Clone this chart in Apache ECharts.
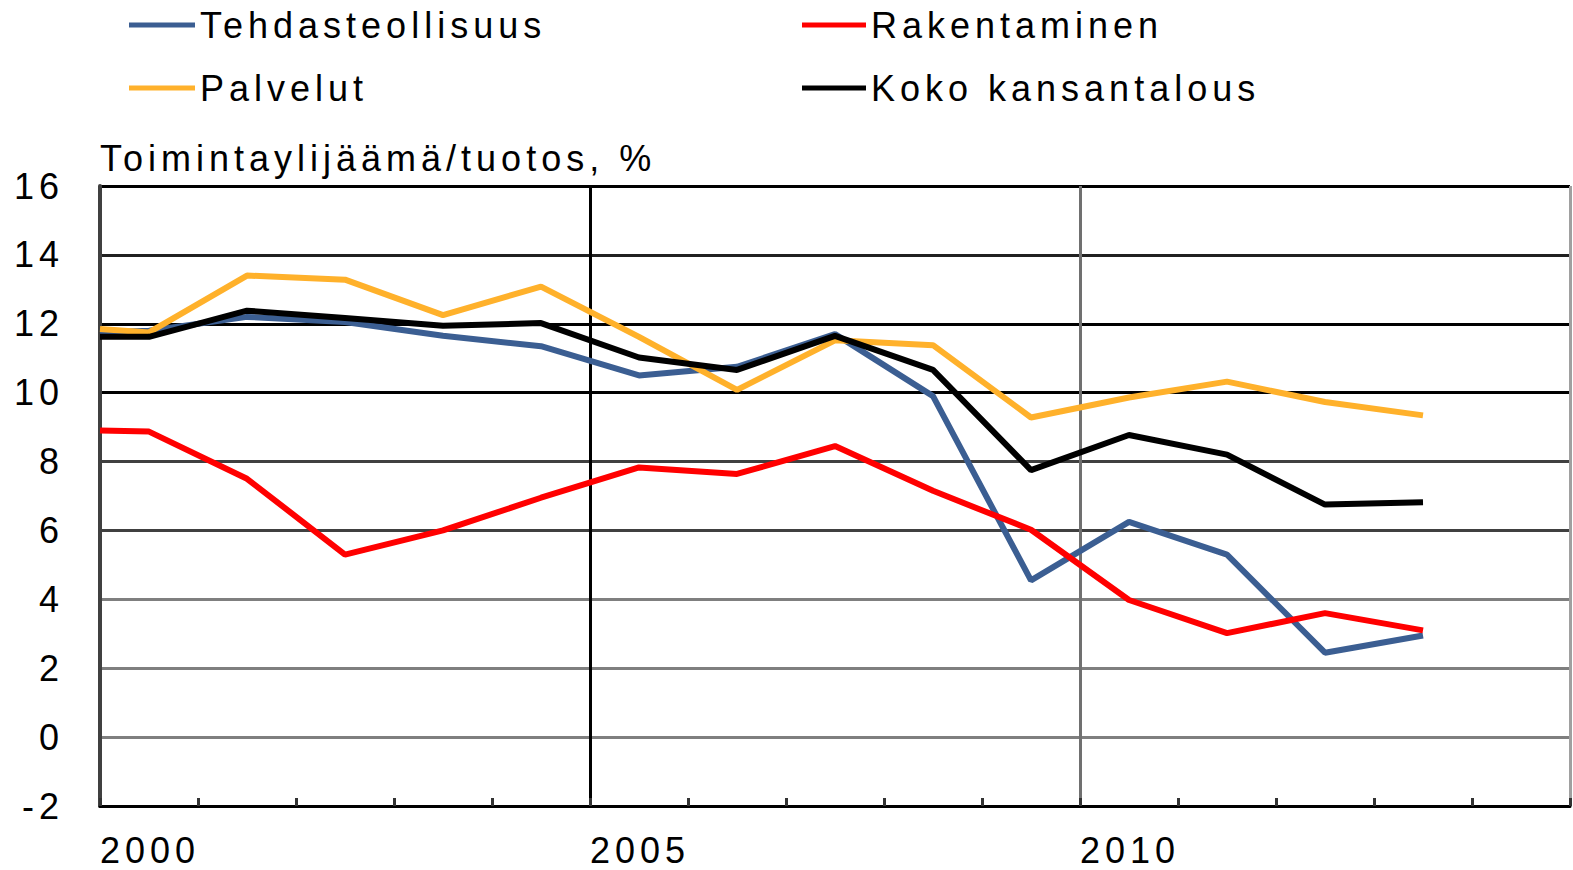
<!DOCTYPE html>
<html>
<head>
<meta charset="utf-8">
<title>Toimintaylijäämä/tuotos</title>
<script src="https://cdn.jsdelivr.net/npm/echarts@6.0.0/dist/echarts.min.js"></script>
<style>
    html, body { margin: 0; padding: 0; background: #fff; }
    #chart { width: 1573px; height: 870px; }
    /* the original lettering is very widely spaced */
    #chart text { letter-spacing: 5px; }
</style>
</head>
<body>
<div id="chart"></div>
<script>
    // x positions in years (first point sits on the 2000 axis, the rest mid-year)
    var years = [2000, 2000.5, 2001.5, 2002.5, 2003.5, 2004.5, 2005.5, 2006.5, 2007.5, 2008.5, 2009.5, 2010.5, 2011.5, 2012.5, 2013.5];

    var tehdasteollisuus = [11.75, 11.8, 12.2, 12.05, 11.65, 11.35, 10.5, 10.75, 11.7, 9.9, 4.55, 6.25, 5.3, 2.45, 2.95];
    var rakentaminen = [8.9, 8.87, 7.5, 5.3, 6.0, 6.95, 7.83, 7.64, 8.45, 7.15, 6.02, 3.98, 3.02, 3.6, 3.1];
    var palvelut = [11.85, 11.75, 13.4, 13.28, 12.25, 13.08, 11.62, 10.08, 11.52, 11.38, 9.28, 9.86, 10.32, 9.73, 9.34];
    var kokoKansantalous = [11.62, 11.62, 12.38, 12.17, 11.94, 12.02, 11.02, 10.66, 11.65, 10.66, 7.75, 8.77, 8.2, 6.75, 6.82];

    var yearLabels = [2000, 2005, 2010];
    var yName = 'Toimintaylijäämä/tuotos, %';

    function pairs(vals) {
        return vals.map(function (v, i) { return [years[i], v]; });
    }

    var font = "'Liberation Sans', Arial, sans-serif";
    var legendText = {fontSize: 36, lineHeight: 36, color: '#000', fontFamily: font};

    var chart = echarts.init(document.getElementById('chart'), null, {renderer: 'svg'});

    chart.setOption({
        backgroundColor: '#ffffff',
        animation: false,
        textStyle: {fontFamily: font},
        legend: [
            {
                left: 124, top: 2, orient: 'vertical',
                itemGap: 27, itemWidth: 66, itemHeight: 5, icon: 'rect',
                data: ['Tehdasteollisuus', 'Palvelut'],
                textStyle: legendText
            },
            {
                left: 797, top: 2, orient: 'vertical',
                itemGap: 27, itemWidth: 64, itemHeight: 5, icon: 'rect',
                data: ['Rakentaminen', 'Koko kansantalous'],
                textStyle: legendText
            }
        ],
        grid: {
            left: 100, right: 0, top: 186, bottom: 64,
            show: true, backgroundColor: '#ffffff', borderWidth: 0
        },
        xAxis: [
            {
                type: 'value', min: 2000, max: 2015, interval: 1,
                axisLine: {show: true, onZero: false, lineStyle: {color: '#000', width: 3}},
                axisTick: {show: true, inside: true, length: 8, lineStyle: {color: '#333', width: 3}},
                axisLabel: {show: false},
                splitLine: {show: false}
            },
            {
                type: 'value', min: 2000, max: 2015, interval: 5, position: 'bottom',
                axisLine: {show: false},
                axisTick: {show: false},
                axisLabel: {
                    show: true, margin: 44, align: 'left', verticalAlign: 'middle',
                    fontSize: 36, lineHeight: 34, color: '#000', fontFamily: font,
                    formatter: function (v) { return yearLabels.indexOf(v) >= 0 ? String(v) : ''; }
                },
                splitLine: {show: true, lineStyle: {color: ['#404040', '#000000', '#707070', '#a0a0a0'], width: 3}}
            }
        ],
        yAxis: {
            type: 'value', min: -2, max: 16, interval: 2,
            name: yName, nameLocation: 'end', nameGap: 28,
            nameTextStyle: {fontSize: 36, color: '#000', align: 'left', verticalAlign: 'middle', fontFamily: font},
            axisLine: {show: true, lineStyle: {color: '#404040', width: 4}},
            axisTick: {show: false},
            axisLabel: {margin: 36, fontSize: 36, color: '#000', fontFamily: font},
            splitLine: {
                show: true,
                lineStyle: {
                    color: ['#000000', '#7f7f7f', '#7f7f7f', '#7f7f7f', '#404040', '#404040', '#000000', '#000000', '#202020', '#000000'],
                    width: 3
                }
            }
        },
        series: [
            {
                name: 'Tehdasteollisuus', type: 'line', symbol: 'none',
                color: '#3b5e92', lineStyle: {width: 6, color: '#3b5e92'},
                data: pairs(tehdasteollisuus)
            },
            {
                name: 'Rakentaminen', type: 'line', symbol: 'none',
                color: '#ff0000', lineStyle: {width: 6, color: '#ff0000'},
                data: pairs(rakentaminen)
            },
            {
                name: 'Palvelut', type: 'line', symbol: 'none',
                color: '#ffb12b', lineStyle: {width: 6, color: '#ffb12b'},
                data: pairs(palvelut)
            },
            {
                name: 'Koko kansantalous', type: 'line', symbol: 'none',
                color: '#000000', lineStyle: {width: 6, color: '#000000'},
                data: pairs(kokoKansantalous)
            }
        ]
    });
</script>
</body>
</html>
